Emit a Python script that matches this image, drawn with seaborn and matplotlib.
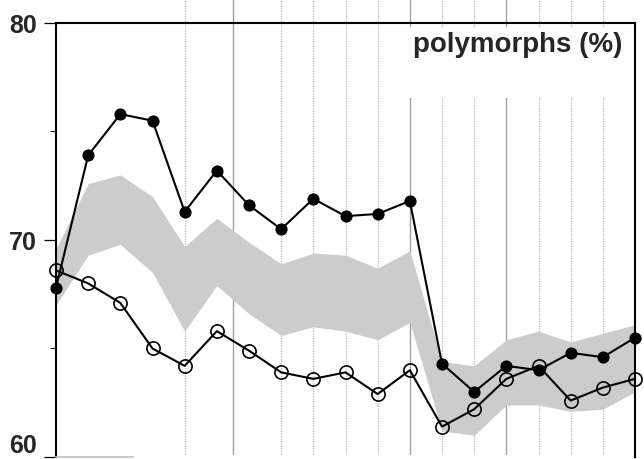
import matplotlib
matplotlib.use('Agg')
import matplotlib.pyplot as plt
import numpy as np
import pandas as pd
import seaborn as sns
from matplotlib.patches import Rectangle

# data (19 equally spaced samples)
x_idx = list(range(19))
filled = [67.8, 73.9, 75.8, 75.5, 71.3, 73.2, 71.6, 70.5, 71.9, 71.1, 71.2, 71.8,
          64.3, 63.0, 64.2, 64.0, 64.8, 64.6, 65.5]
open_ = [68.6, 68.0, 67.1, 65.0, 64.2, 65.8, 64.9, 63.9, 63.6, 63.9, 62.9, 64.0,
         61.4, 62.2, 63.6, 64.2, 62.6, 63.2, 63.6]
band_hi = [69.6, 72.6, 73.0, 72.0, 69.7, 71.0, 69.9, 68.9, 69.4, 69.3, 68.7, 69.5,
           64.4, 64.2, 65.4, 65.8, 65.3, 65.7, 66.1]
band_lo = [67.0, 69.3, 69.8, 68.5, 65.8, 67.9, 66.6, 65.6, 66.0, 65.8, 65.4, 66.2,
           61.2, 61.0, 62.4, 62.4, 62.1, 62.2, 63.0]
grid_solid = [5.5, 11, 14]
grid_dotted = [4, 7, 8, 9, 10, 12, 13, 15, 16, 17]
y_major = [60, 70, 80]
y_minor = [65, 75]
title = 'polymorphs (%)'

df = pd.DataFrame({'x': x_idx, 'filled': filled, 'open': open_})

sns.set_style('white')
plt.rcParams['font.family'] = ['Liberation Sans', 'DejaVu Sans']

fig = plt.figure(figsize=(6.44, 4.6), dpi=100)
ax = fig.add_axes([56 / 644, 2 / 460, 579 / 644, 434 / 460])

# vertical reference lines, running up past the top spine
for g in grid_dotted:
    ax.axvline(g, ymin=0.007, ymax=1.06, color='#b8b8b8', lw=0.9, ls=(0, (1, 1)),
               clip_on=False, zorder=0)
for g in grid_solid:
    ax.axvline(g, ymin=0.007, ymax=1.06, color='#a0a0a0', lw=1.0,
               clip_on=False, zorder=0)

ax.fill_between(x_idx, band_lo, band_hi, color='#cccccc', lw=0, zorder=1)

sns.lineplot(data=df, x='x', y='open', ax=ax, color='black', lw=1.5, marker='o',
             markersize=9.5, markerfacecolor='none', markeredgecolor='black',
             markeredgewidth=1.2, zorder=3)
sns.lineplot(data=df, x='x', y='filled', ax=ax, color='black', lw=1.5, marker='o',
             markersize=8, markerfacecolor='black', markeredgecolor='black', zorder=4)
for ln in ax.lines:
    ln.set_clip_on(False)

ax.set_xlim(0, 18)
ax.set_ylim(60, 80)
ax.set_xlabel('')
ax.set_ylabel('')
ax.set_xticks([])
ax.set_yticks(y_major)
ax.set_yticks(y_minor, minor=True)
ax.set_yticklabels([str(v) for v in y_major], fontsize=18, fontweight='bold')
ax.yaxis.get_majorticklabels()[0].set_va('bottom')
ax.tick_params(axis='y', which='major', length=8.5, width=0.9, pad=5, color='black', left=True)
ax.tick_params(axis='y', which='minor', length=4.5, width=0.9, color='#333333', left=True)

for s in ['left', 'top', 'right']:
    ax.spines[s].set_color('black')
    ax.spines[s].set_linewidth(1.5)
ax.spines['bottom'].set_color('#c0c0c0')
ax.spines['bottom'].set_linewidth(1.2)
ax.spines['bottom'].set_bounds(0, 2.4)

# white label box over the grid lines
ax.add_patch(Rectangle((0.600, 0.828), 0.39, 0.163, transform=ax.transAxes,
                       facecolor='white', edgecolor='none', zorder=2, clip_on=False))
ax.text(0.979, 0.935, title, transform=ax.transAxes, ha='right', va='baseline',
        fontsize=20, fontweight='bold', zorder=5)

fig.savefig('out.png', dpi=100)
